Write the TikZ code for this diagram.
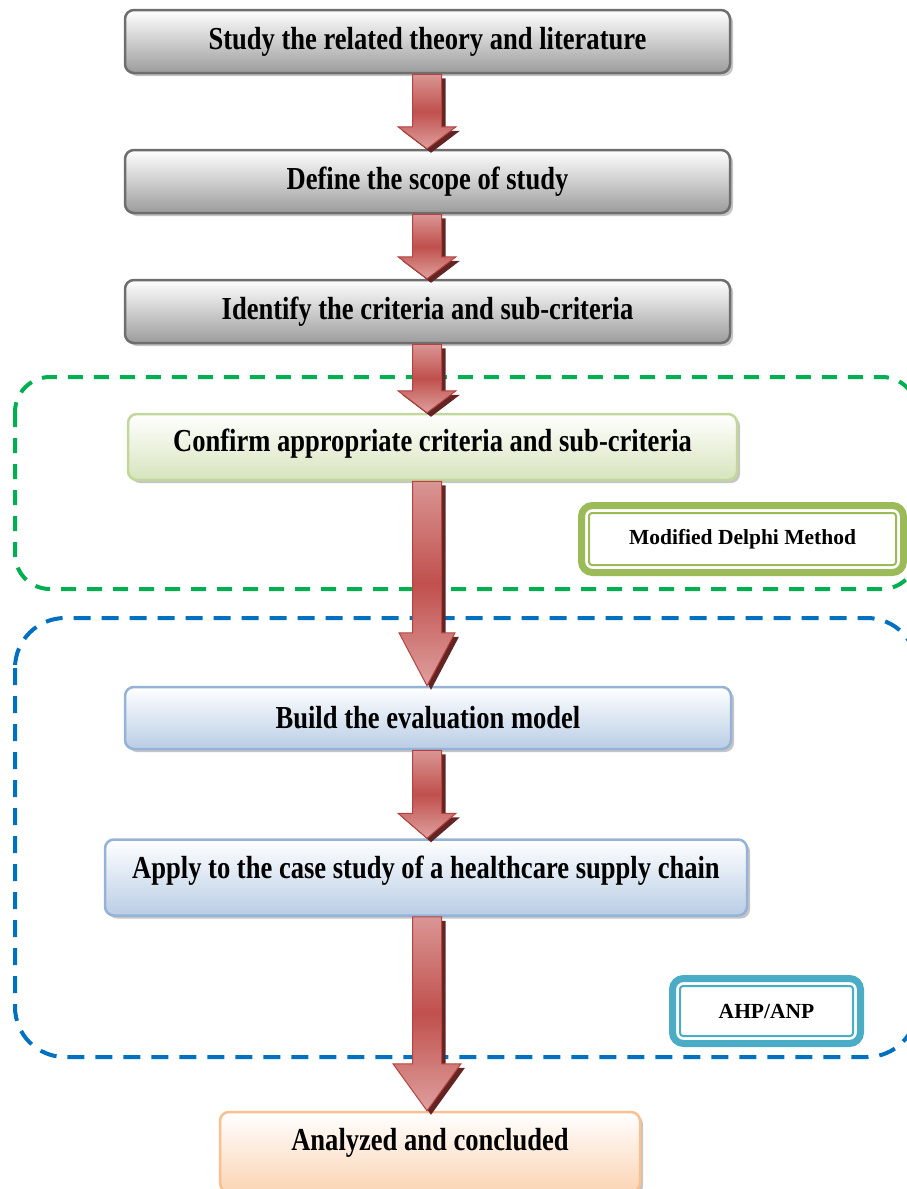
\documentclass[tikz,border=0pt]{standalone}
\usepackage{fontspec}
\newfontfamily\boxfont{Liberation Serif}[FakeStretch=0.83]
\newfontfamily\tagfont{Liberation Serif}
\usetikzlibrary{shapes,arrows,positioning,calc,fit,backgrounds,shadows}

\definecolor{grayline}{HTML}{6E6E6E}
\definecolor{graybot}{HTML}{9C9C9C}
\definecolor{greenline}{HTML}{C3D69B}
\definecolor{greenbot}{HTML}{D7E4BD}
\definecolor{blueline}{HTML}{95B3D7}
\definecolor{bluebot}{HTML}{B9CDE5}
\definecolor{orangeline}{HTML}{FAC090}
\definecolor{orangebot}{HTML}{FBD4B4}
\definecolor{zonegreen}{HTML}{00B050}
\definecolor{zoneblue}{HTML}{0070C0}
\definecolor{delphigreen}{HTML}{9BBB59}
\definecolor{ahpblue}{HTML}{4BACC6}
\definecolor{arrtop}{HTML}{D99694}
\definecolor{arrmid}{HTML}{C0504D}
\definecolor{arrbot}{HTML}{DEA09E}
\definecolor{arrline}{HTML}{B5423F}
\definecolor{arrdark}{HTML}{632523}

\tikzset{
  stepbox/.style={draw, rounded corners=9pt, line width=2.5pt, align=center, inner sep=0pt,
    font=\boxfont\bfseries\fontsize{32}{38}\selectfont,
    drop shadow={shadow xshift=3pt, shadow yshift=-3pt, fill=black!45, opacity=0.5}},
  graystep/.style={stepbox, draw=grayline, top color=white, bottom color=graybot},
  greenstep/.style={stepbox, draw=greenline, top color=white, bottom color=greenbot},
  bluestep/.style={stepbox, draw=blueline, top color=white, bottom color=bluebot},
  orangestep/.style={stepbox, draw=orangeline, top color=white, bottom color=orangebot},
  tagbox/.style={draw=#1, line width=7pt, rounded corners=11pt, fill=white, inner sep=0pt,
    outer sep=0pt, font=\tagfont\bfseries\fontsize{21.5}{26}\selectfont},
  zone/.style 2 args={draw=#1, line width=4pt, rounded corners=#2, dash pattern=on 15pt off 11pt},
  arrowbody/.style={draw=arrline, line width=1pt, top color=arrtop, bottom color=arrbot, middle color=arrmid},
  arrowshadow/.style={fill=arrdark}
}

\newcommand\flowarrow[4]{%
  \coordinate (top) at (axis |- #1.south);
  \coordinate (tip) at (axis |- #2.north);
  \fill[arrowshadow, transform canvas={xshift=4pt,yshift=-4pt}]
    ($(top)+(-14.5,0)$) -- ($(tip)+(-14.5,-#3)$) -- ($(tip)+(-#4,-#3)$) -- (tip)
    -- ($(tip)+(#4,-#3)$) -- ($(tip)+(14.5,-#3)$) -- ($(top)+(14.5,0)$) -- cycle;
  \draw[arrowbody]
    ($(top)+(-14.5,0)$) -- ($(tip)+(-14.5,-#3)$) -- ($(tip)+(-#4,-#3)$) -- (tip)
    -- ($(tip)+(#4,-#3)$) -- ($(tip)+(14.5,-#3)$) -- ($(top)+(14.5,0)$) -- cycle;
}

\begin{document}
\begin{tikzpicture}[x=1pt, y=-1pt]
\useasboundingbox (0,0) rectangle (907,1189);
\coordinate (axis) at (427,0);

\draw[zone={zonegreen}{35pt}] (15,377) rectangle (917,589);
\draw[zone={zoneblue}{50pt}, dash pattern=on 17pt off 11pt] (15,618) rectangle (917,1057);

\node[graystep, minimum width=605pt, minimum height=63pt] (theory) at (427.5,41.5) {Study the related theory and literature};
\node[graystep, minimum width=605pt, minimum height=63pt] (scope) at (427.5,181.5) {Define the scope of study};
\node[graystep, minimum width=605pt, minimum height=63pt] (criteria) at (427.5,311.5) {Identify the criteria and sub-criteria};
\node[greenstep, minimum width=609pt, minimum height=66pt, text depth=14pt] (confirm) at (432.5,447) {Confirm appropriate criteria and sub-criteria};
\node[bluestep, minimum width=606pt, minimum height=62pt] (model) at (428,718) {Build the evaluation model};
\node[bluestep, minimum width=642pt, minimum height=76pt, text depth=20pt] (apply) at (426,877.5) {Apply to the case study of a healthcare supply chain};
\node[orangestep, minimum width=420pt, minimum height=80pt, text depth=25pt] (conclude) at (430,1152) {Analyzed and concluded};

\node[tagbox=delphigreen, minimum width=322pt, minimum height=67pt] (delphi) at (742.5,539) {Modified Delphi Method};
\draw[delphigreen, line width=2pt, rounded corners=3pt] ($(delphi.north west)+(7.5,7.5)$) rectangle ($(delphi.south east)+(-7.5,-7.5)$);
\node[tagbox=ahpblue, minimum width=188pt, minimum height=65pt] (ahp) at (766.5,1011) {AHP/ANP};
\draw[ahpblue, line width=2pt, rounded corners=3pt] ($(ahp.north west)+(7.5,7.5)$) rectangle ($(ahp.south east)+(-7.5,-7.5)$);

\flowarrow{theory}{scope}{22}{29}
\flowarrow{scope}{criteria}{22}{29}
\flowarrow{criteria}{confirm}{22}{29}
\flowarrow{confirm}{model}{53}{28}
\flowarrow{model}{apply}{25}{29}
\flowarrow{apply}{conclude}{47}{34}
\end{tikzpicture}
\end{document}
